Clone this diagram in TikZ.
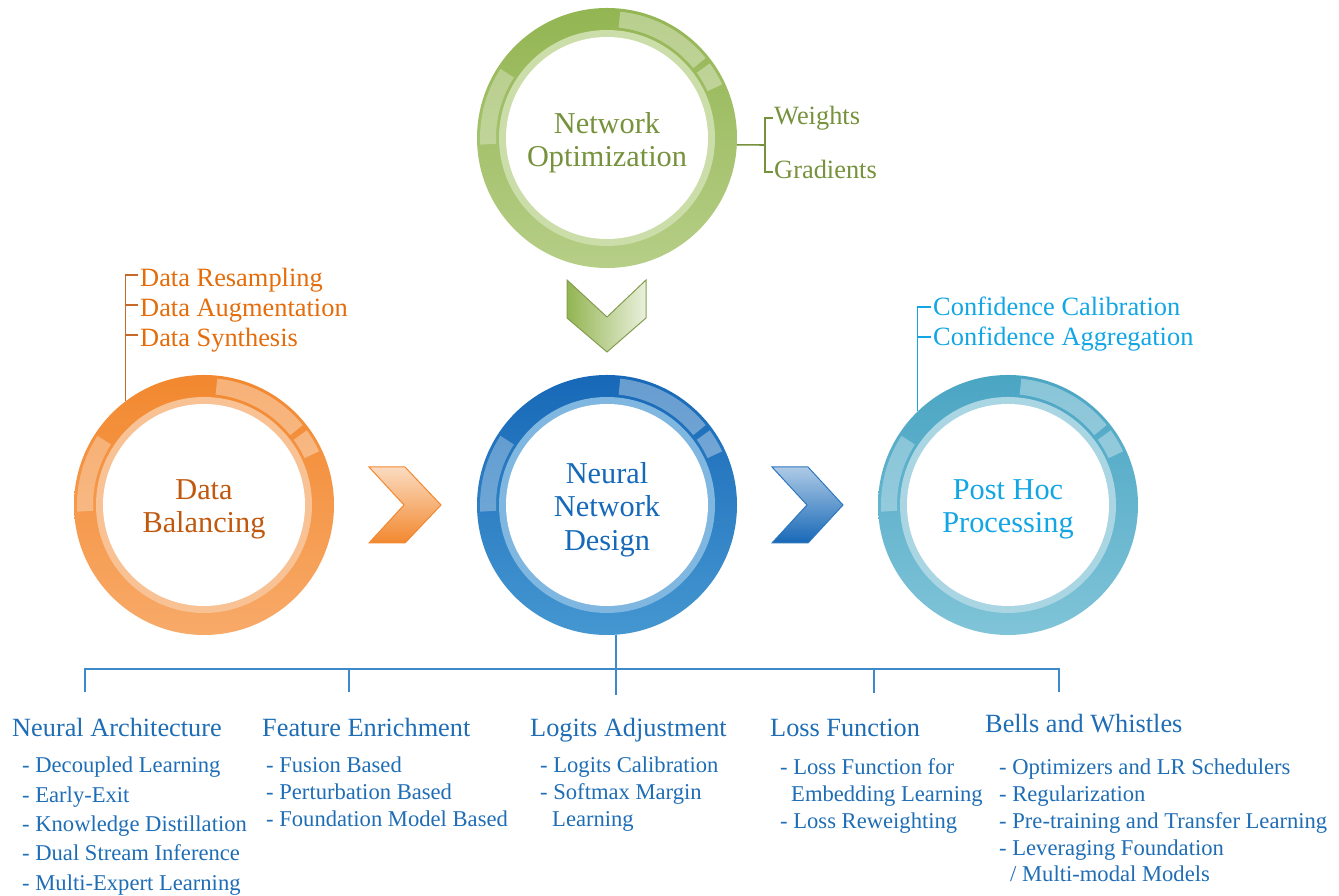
\documentclass[tikz,border=0pt]{standalone}
\usepackage{fontspec}
\setmainfont{Liberation Serif}
\definecolor{gtop}{HTML}{93B552}
\definecolor{gbot}{HTML}{B6CE87}
\definecolor{gband}{HTML}{CBDDA9}
\definecolor{otop}{HTML}{F2882F}
\definecolor{obot}{HTML}{F8AA69}
\definecolor{oband}{HTML}{F9C295}
\definecolor{btop}{HTML}{1768B7}
\definecolor{bbot}{HTML}{4597D1}
\definecolor{bband}{HTML}{80B7E1}
\definecolor{ttop}{HTML}{4AA5C3}
\definecolor{tbot}{HTML}{80C4D8}
\definecolor{tband}{HTML}{AAD6E4}
\definecolor{gtxt}{HTML}{76923C}
\definecolor{otxt}{HTML}{C0580E}
\definecolor{olab}{HTML}{E46C0A}
\definecolor{oln}{HTML}{C8692C}
\definecolor{btxt}{HTML}{1669B9}
\definecolor{ttxt}{HTML}{12A6E4}
\definecolor{treetxt}{HTML}{1E6DB5}
\definecolor{treeline}{HTML}{3D89C9}
\tikzset{
  pics/ring/.style n args={3}{code={
    \shade[top color=#1, bottom color=#2] (0,0) circle (130pt);
    \fill[#3] (0,0) circle (108pt);
    \fill[white] (0,0) circle (101pt);
    \fill[white,opacity=.35] (84:127pt) arc[start angle=84,end angle=39,radius=127pt] -- (39:111pt) arc[start angle=39,end angle=84,radius=111pt] -- cycle;
    \fill[white,opacity=.35] (36:127pt) arc[start angle=36,end angle=25,radius=127pt] -- (25:111pt) arc[start angle=25,end angle=36,radius=111pt] -- cycle;
    \fill[white,opacity=.3] (147:127pt) arc[start angle=147,end angle=183,radius=127pt] -- (183:111pt) arc[start angle=183,end angle=147,radius=111pt] -- cycle;
  }},
  ctitle/.style={circle, minimum size=260pt, inner sep=0pt, align=center, font=\fontsize{30.3}{33.3}\selectfont},
  lab/.style={inner sep=0pt, anchor=west, font=\fontsize{26.4}{30}\selectfont, text depth=0pt, text height=#1},
  head/.style={inner sep=0pt, anchor=base west, font=\fontsize{26.3}{30}\selectfont, text=treetxt},
  item/.style={inner sep=0pt, anchor=base west, font=\fontsize{22.6}{26}\selectfont, text=treetxt},
  brk/.style={line width=1.6pt, draw=#1},
  treeln/.style={line width=2pt, draw=treeline},
}
\begin{document}
\begin{tikzpicture}[x=1pt,y=1pt]
\useasboundingbox (0,0) rectangle (1339,896);

% rings
\pic at (607,758) {ring={gtop}{gbot}{gband}};
\pic at (204,391) {ring={otop}{obot}{oband}};
\pic at (607,391) {ring={btop}{bbot}{bband}};
\pic at (1008,391) {ring={ttop}{tbot}{tband}};

% circle nodes and titles
\node[ctitle] (G) at (607,758) {};
\node[ctitle] (O) at (204,391) {};
\node[ctitle] (B) at (607,391) {};
\node[ctitle] (T) at (1008,391) {};
\node[ctitle, text=gtxt, yshift=-5pt] (Gt) at (G) {Network\\Optimization};
\node[ctitle, text=otxt, yshift=-4.5pt] (Ot) at (O) {Data\\Balancing};
\node[ctitle, text=btxt, yshift=-4.5pt] (Bt) at (B) {Neural\\Network\\Design};
\node[ctitle, text=ttxt, yshift=-4.5pt] (Tt) at (T) {Post Hoc\\Processing};

% chevrons
\shade[top color=white!70!otop, bottom color=otop, draw=otop, line width=1pt, line join=miter]
  (369,429) -- (405,429) -- (441,391) -- (405,353) -- (369,353) -- (404,391) -- cycle;
\shade[top color=white!65!btop, bottom color=btop, draw=btop!90!white, line width=1pt, line join=miter]
  (772,429) -- (808,429) -- (843,391) -- (808,353) -- (772,353) -- (807,391) -- cycle;
\shade[left color=gtop, right color=white!80!gtop, draw=gtxt!90!white, line width=1pt, line join=miter]
  (567,616) -- (607,579) -- (646,616) -- (646,578) -- (607,544) -- (567,578) -- cycle;

% green bracket
\node[lab=14pt, text=gtxt] (gw) at (774,778) {Weights};
\node[lab=14pt, text=gtxt] (gg) at (774,724) {Gradients};
\coordinate (gj) at (765,751);
\draw[brk=gtxt, shorten <=1.5pt, shorten >=1.5pt] (gw.west) -- ++(-9,0) |- (gg.west);
\draw[brk=gtxt] (G.-3) -- (gj);

% orange bracket
\node[lab=24pt, text=olab] (o1) at (140,621) {Data Resampling};
\node[lab=24pt, text=olab] (o2) at (140,591) {Data Augmentation};
\node[lab=24pt, text=olab] (o3) at (140,561) {Data Synthesis};
\draw[brk=oln, shorten >=2pt] (O.127.4) |- (o1.west);
\draw[brk=oln, shorten <=2pt] (o2.west) -- (o2.west -| O.127.4);
\draw[brk=oln, shorten <=2pt] (o3.west) -- (o3.west -| O.127.4);

% teal bracket
\node[lab=18pt, text=ttxt] (t1) at (933,589) {Confidence Calibration};
\node[lab=18pt, text=ttxt] (t2) at (933,559) {Confidence Aggregation};
\draw[brk=ttxt, shorten >=2pt] (T.134.4) |- (t1.west);
\draw[brk=ttxt, shorten <=2pt] (t2.west) -- (t2.west -| T.134.4);

% tree
\coordinate (busL) at (85,227);
\coordinate (busR) at (1059,227);
\coordinate (k1) at (85,204);
\coordinate (k2) at (349,204);
\coordinate (k4) at (874,203);
\coordinate (k5) at (1059,204);
\draw[treeln] (B.-86.7) -- ++(0,-60);
\draw[treeln] (k1) -- (busL) -- (busR) -- (k5);
\draw[treeln] (k2) -- (k2 |- busL);
\draw[treeln] (k4) -- (k4 |- busL);

% headings
\node[head] (h1) at (12,159) {Neural Architecture};
\node[head] (h2) at (262,159) {Feature Enrichment};
\node[head] (h3) at (530,159) {Logits Adjustment};
\node[head] (h4) at (770,159) {Loss Function};
\node[head] (h5) at (985,163) {Bells and Whistles};

% items
\node[item] (a1) at (22,123) {- Decoupled Learning};
\node[item] (a2) at (22,93.7) {- Early-Exit};
\node[item] (a3) at (22,64.4) {- Knowledge Distillation};
\node[item] (a4) at (22,35.1) {- Dual Stream Inference};
\node[item] (a5) at (22,5.8) {- Multi-Expert Learning};

\node[item] (b1) at (266,123) {- Fusion Based};
\node[item] (b2) at (266,96) {- Perturbation Based};
\node[item] (b3) at (266,69) {- Foundation Model Based};

\node[item] (c1) at (540,123) {- Logits Calibration};
\node[item] (c2) at (540,96) {- Softmax Margin};
\node[item] (c3) at (552,69) {Learning};

\node[item] (d1) at (780,121) {- Loss Function for};
\node[item] (d2) at (791,94) {Embedding Learning};
\node[item] (d3) at (780,67) {- Loss Reweighting};

\node[item] (e1) at (999,121) {- Optimizers and LR Schedulers};
\node[item] (e2) at (999,94.3) {- Regularization};
\node[item] (e3) at (999,67.6) {- Pre-training and Transfer Learning};
\node[item] (e4) at (999,40.9) {- Leveraging Foundation};
\node[item] (e5) at (1010,14.2) {/ Multi-modal Models};
\end{tikzpicture}
\end{document}
